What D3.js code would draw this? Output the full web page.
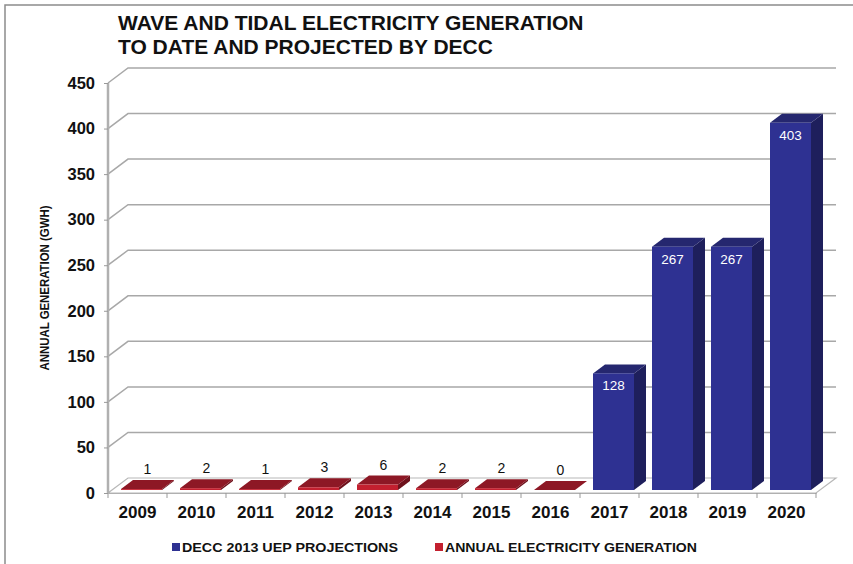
<!DOCTYPE html>
<html><head><meta charset="utf-8">
<script src="https://cdn.jsdelivr.net/npm/d3@7"></script>
<style>
html,body{margin:0;padding:0;background:#fff;}
svg{display:block;font-family:"Liberation Sans",Arial,sans-serif;}
</style></head>
<body><svg id="c" width="853" height="564"></svg>
<script>
const years = ["2009","2010","2011","2012","2013","2014","2015","2016","2017","2018","2019","2020"];
const actualValues = [1,2,1,3,6,2,2,0,null,null,null,null];
const projectionValues = [null,null,null,null,null,null,null,null,128,267,267,403];
const yTicks = [0,50,100,150,200,250,300,350,400,450];
const titleLines = ["WAVE AND TIDAL ELECTRICITY GENERATION","TO DATE AND PROJECTED BY DECC"];
const yTitle = "ANNUAL GENERATION (GWH)";
const legendLabels = ["DECC 2013 UEP PROJECTIONS","ANNUAL ELECTRICITY GENERATION"];

const svg = d3.select("#c");
const DX = 20, DY = -15;
const x = d3.scaleBand().domain(years).range([108, 816]).padding(0);
const y = d3.scaleLinear().domain([0, 450]).range([493, 83]);
const grid = "#a8a8a8";

// outer border (top & left)
svg.append("path").attr("d","M5,564 V5 H853").attr("fill","none").attr("stroke","#8c8c8c").attr("stroke-width",1.5);

// title
svg.append("g").selectAll("text").data(titleLines).join("text")
  .attr("x",118).attr("y",(d,i)=>30+i*24)
  .attr("font-size",21).attr("font-weight","bold").attr("fill","#111").text(d=>d);

// floor
const fx0 = x.range()[0], fx1 = x.range()[1], fy = y(0);
svg.append("path")
  .attr("d",`M${fx0},${fy} L${fx1},${fy} L${fx1+DX},${fy+DY} L${fx0+DX},${fy+DY} Z`)
  .attr("fill","#fff").attr("stroke","#b8b8b8").attr("stroke-width",1.2);

// gridlines
const gl = svg.append("g");
yTicks.filter(t=>t>0).forEach(t=>{
  gl.append("path")
    .attr("d",`M${fx0},${y(t)} L${fx0+DX},${y(t)+DY} L${fx1+DX},${y(t)+DY}`)
    .attr("fill","none").attr("stroke",grid).attr("stroke-width",1.5);
});

// y axis
svg.append("line").attr("x1",fx0).attr("x2",fx0).attr("y1",y(450)).attr("y2",y(0))
  .attr("stroke","#b0b0b0").attr("stroke-width",2.5);
const yAxis = svg.append("g").attr("transform",`translate(${fx0},0)`)
  .call(d3.axisLeft(y).tickValues(yTicks).tickSize(4).tickPadding(9));
yAxis.select(".domain").remove();
yAxis.selectAll("line").attr("stroke","#999");
yAxis.selectAll("text").attr("font-size",16.5).attr("font-weight","bold").attr("fill","#111")
  .attr("font-family","Liberation Sans,Arial,sans-serif");

// x axis
const xAxis = svg.append("g").attr("transform",`translate(0,${y(0)})`)
  .call(d3.axisBottom(x).tickSize(0).tickPadding(13));
xAxis.select(".domain").attr("stroke","#b0b0b0").attr("stroke-width",1.2);
xAxis.selectAll("text").attr("font-size",17).attr("font-weight","bold").attr("fill","#111")
  .attr("font-family","Liberation Sans,Arial,sans-serif");
const tickPos = years.map(d=>x(d)).concat([fx1]);
svg.append("g").selectAll("line").data(tickPos).join("line")
  .attr("x1",d=>d).attr("x2",d=>d).attr("y1",y(0)).attr("y2",y(0)+5)
  .attr("stroke","#999").attr("stroke-width",1);

// 3D bars
const bw = 41, off = (x.bandwidth()-bw)/2;
const f0 = 0.2, f1 = 0.8;
function bar(g, cat, v, cols){
  const xl = x(cat)+off + DX*f0, xr = xl + bw;
  const yb = y(0) + DY*f0, yt = y(v) + DY*f0;
  const sx = DX*(f1-f0), sy = DY*(f1-f0);
  g.append("path").attr("d",`M${xr},${yb} L${xr+sx},${yb+sy} L${xr+sx},${yt+sy} L${xr},${yt} Z`).attr("fill",cols.side);
  g.append("path").attr("d",`M${xl},${yt} L${xl+sx},${yt+sy} L${xr+sx},${yt+sy} L${xr},${yt} Z`).attr("fill",cols.top);
  g.append("rect").attr("x",xl).attr("y",yt).attr("width",bw).attr("height",Math.max(0,yb-yt)).attr("fill",cols.front);
  return {xl, xr, yt, sx, sy};
}
const red = {front:"#c3202f", top:"#8d1825", side:"#6e121c"};
const blue = {front:"#2e3192", top:"#25276f", side:"#1e1f5c"};
const gb = svg.append("g");
years.forEach((cat,i)=>{
  const a = actualValues[i];
  if(a!==null){
    const b = bar(gb, cat, a, red);
    gb.append("text").attr("x",(b.xl+b.xr)/2 + b.sx/2).attr("y",b.yt+b.sy-6)
      .attr("text-anchor","middle").attr("font-size",14).attr("fill","#111").text(a);
  }
  const p = projectionValues[i];
  if(p!==null){
    const b = bar(gb, cat, p, blue);
    gb.append("text").attr("x",(b.xl+b.xr)/2).attr("y",b.yt+17)
      .attr("text-anchor","middle").attr("font-size",13.5).attr("fill","#fff").text(p);
  }
});

// y title
svg.append("text").attr("transform","translate(49,288) rotate(-90)")
  .attr("text-anchor","middle").attr("font-size",13).attr("font-weight","bold").attr("fill","#111")
  .attr("textLength",165).attr("lengthAdjust","spacingAndGlyphs").text(yTitle);

// legend
const legCols = [blue.front, red.front];
const legX = [172, 435], legLen = [216, 252];
legendLabels.forEach((t,i)=>{
  svg.append("rect").attr("x",legX[i]).attr("y",543).attr("width",8).attr("height",8).attr("fill",legCols[i]);
  svg.append("text").attr("x",legX[i]+10).attr("y",552).attr("font-size",13).attr("font-weight","bold")
    .attr("fill","#111").attr("textLength",legLen[i]).attr("lengthAdjust","spacingAndGlyphs").text(t);
});
</script></body></html>
